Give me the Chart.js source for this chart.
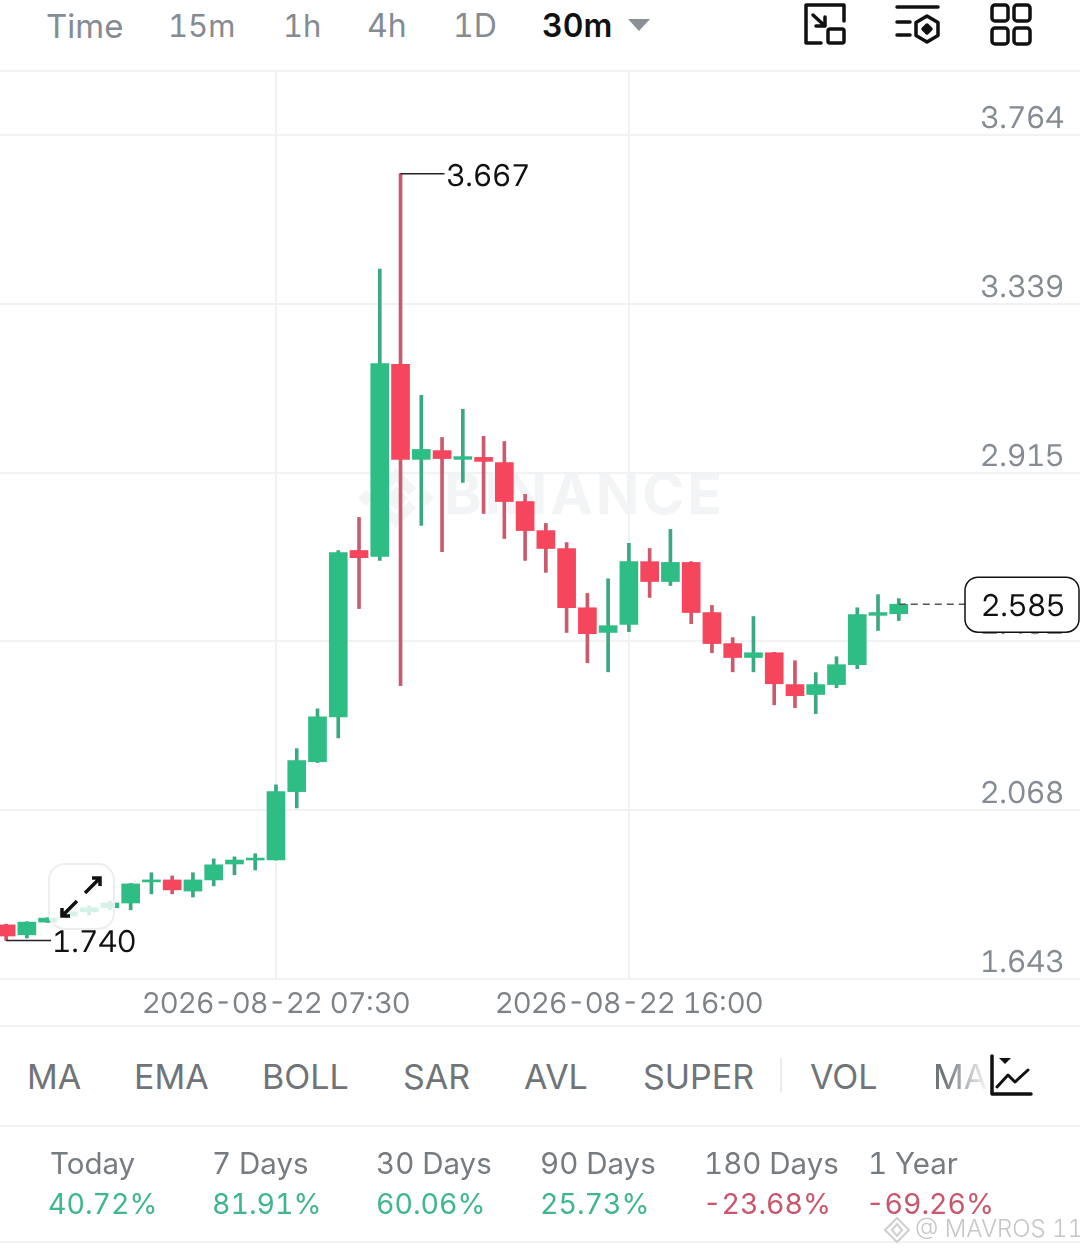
<!DOCTYPE html>
<html>
<head>
<meta charset="utf-8">
<script src="https://cdn.jsdelivr.net/npm/chart.js@4/dist/chart.umd.min.js"></script>
<style>
  @font-face { font-family: 'InterTab'; src: local('Inter'), local('Inter Regular'); font-feature-settings: 'tnum' 1; }
  html, body { margin: 0; padding: 0; background: #fff; }
  body { width: 1080px; height: 1254px; position: relative; overflow: hidden; font-family: Inter, sans-serif; font-variant-numeric: tabular-nums; }
  .t { position: absolute; white-space: nowrap; line-height: 40px; transform: translateY(-50%); }
  .top { top: 26px; font-size: 33px; color: #848b92; }
  .tab { top: 1077px; font-size: 34px; color: #6f7479; }
  .lab { top: 1163px; font-size: 29.500px; color: #767b80; }
  .val { top: 1204px; font-size: 28.500px; }
  .up { color: #3fb68d; }
  .down { color: #c9566b; }
  .line { position: absolute; left: 0; width: 1080px; height: 2px; background: #f1f2f3; }
  svg { position: absolute; overflow: visible; left: 0; top: 0; }
  #chart { position: absolute; left: 0; top: 70px; }
  #brand { position: absolute; left: 444px; top: 456px; font-size: 57px; line-height: 76px; font-weight: 700; color: #f3f4f5; letter-spacing: 3px; }
  #expand { position: absolute; left: 48px; top: 863px; width: 63px; height: 63px; border: 2px solid #eeeeee; border-radius: 17px; background: rgba(255,255,255,0.8); }
</style>
</head>
<body>
<span class="t top" style="left:46px">Time</span>
<span class="t top" style="left:168px;font-size:31px">15m</span>
<span class="t top" style="left:283px;font-size:31px">1h</span>
<span class="t top" style="left:367px;font-size:32px">4h</span>
<span class="t top" style="left:453px;font-size:32px">1D</span>
<span class="t top" style="left:542px;color:#111;font-weight:600;font-size:32px">30m</span>
<svg width="1080" height="70" fill="none" stroke="#111" stroke-width="3.5" stroke-linecap="round" stroke-linejoin="round">
  <path d="M628 19h22l-11 12z" fill="#8b9096" stroke="none"/>
  <path d="M821 43H806V5H844V21"/>
  <rect x="828" y="29" width="16" height="14" rx="2"/>
  <path d="M813 15L825 26M825 17V26H816"/>
  <path d="M897 7H938M897 22H910M897 35H910"/>
  <path d="M927 16L938 22.500V35.500L927 42L916 35.500V22.500Z"/>
  <path d="M927 25L931 29L927 33L923 29Z" fill="#111"/>
  <rect x="992" y="5" width="16" height="16" rx="3"/>
  <rect x="1014" y="5" width="16" height="16" rx="3"/>
  <rect x="992" y="28" width="16" height="16" rx="3"/>
  <rect x="1014" y="28" width="16" height="16" rx="3"/>
</svg>
<div class="line" style="top:70px"></div>

<svg width="1080" height="1000" fill="#f3f4f5">
  <path d="M396 486l12 12-12 12-12-12zM366 490l8 8-8 8-8-8zM426 490l8 8-8 8-8-8z"/>
  <path d="M396 468l20 20-7 7-13-13-13 13-7-7zM396 528l20-20-7-7-13 13-13-13-7 7z"/>
</svg>
<div id="brand">BINANCE</div>

<canvas id="chart" width="1080" height="956"></canvas>

<div id="expand"></div>
<svg width="1080" height="1000" fill="none" stroke="#111" stroke-width="3.500">
  <path d="M85 893L100 878M92 878H100V886M77 901L62 916M62 908V916H70"/>
</svg>

<div class="line" style="top:1025px"></div>
<span class="t tab" style="left:27px">MA</span>
<span class="t tab" style="left:134px">EMA</span>
<span class="t tab" style="left:262px">BOLL</span>
<span class="t tab" style="left:403px">SAR</span>
<span class="t tab" style="left:524px">AVL</span>
<span class="t tab" style="left:643px">SUPER</span>
<div style="position:absolute;left:780px;top:1058px;width:2px;height:34px;background:#ececec"></div>
<span class="t tab" style="left:810px">VOL</span>
<span class="t tab" style="left:933px;-webkit-mask-image:linear-gradient(to right,#000 20%,rgba(0,0,0,.12) 95%)">MA</span>
<svg width="1080" height="1254" fill="none" stroke="#111" stroke-width="3.500" stroke-linecap="round" stroke-linejoin="round">
  <path d="M992 1056V1094H1031"/>
  <path d="M999 1058H1011L1005 1064Z" fill="#111" stroke="none"/>
  <path d="M997 1087L1008 1075L1015 1082L1028 1070" stroke-width="3"/>
</svg>
<div class="line" style="top:1125px"></div>

<span class="t lab" style="left:50px">Today</span>
<span class="t lab" style="left:212px">7 Days</span>
<span class="t lab" style="left:376px">30 Days</span>
<span class="t lab" style="left:540px">90 Days</span>
<span class="t lab" style="left:704px">180 Days</span>
<span class="t lab" style="left:868px">1 Year</span>
<span class="t val up" style="left:48px">40.72%</span>
<span class="t val up" style="left:212px">81.91%</span>
<span class="t val up" style="left:376px">60.06%</span>
<span class="t val up" style="left:540px">25.73%</span>
<span class="t val down" style="left:703px">-23.68%</span>
<span class="t val down" style="left:866px">-69.26%</span>

<div class="line" style="top:1241px"></div>
<svg width="1080" height="1254" fill="none" stroke="#cfcfcf" stroke-width="2">
  <path d="M897 1218l12 12-12 12-12-12zM897 1224l5 6-5 6-5-6z"/>
</svg>
<span class="t" style="left:915px;top:1229px;font-size:24px;color:#c6c6c6;font-weight:300">@ MAVROS 11</span>

<script>
const opens = [1.779, 1.754, 1.786, 1.801, 1.812, 1.822, 1.834, 1.887, 1.892, 1.864, 1.892, 1.932, 1.942, 1.942, 2.114, 2.189, 2.302, 2.720, 2.705, 3.188, 2.949, 2.971, 2.949, 2.954, 2.941, 2.843, 2.770, 2.725, 2.576, 2.514, 2.534, 2.692, 2.642, 2.690, 2.564, 2.486, 2.451, 2.463, 2.383, 2.358, 2.383, 2.433, 2.557, 2.561];
const closes = [1.751, 1.786, 1.796, 1.812, 1.822, 1.834, 1.882, 1.892, 1.867, 1.892, 1.930, 1.942, 1.947, 2.114, 2.192, 2.302, 2.715, 2.702, 3.190, 2.949, 2.974, 2.951, 2.956, 2.944, 2.843, 2.770, 2.725, 2.576, 2.511, 2.531, 2.692, 2.642, 2.690, 2.564, 2.486, 2.451, 2.463, 2.385, 2.355, 2.383, 2.433, 2.559, 2.564, 2.585];
const highs = [1.781, 1.787, 1.797, 1.818, 1.827, 1.839, 1.883, 1.910, 1.902, 1.910, 1.945, 1.950, 1.958, 2.131, 2.222, 2.322, 2.720, 2.803, 3.427, 3.667, 3.110, 3.004, 3.075, 3.007, 2.994, 2.861, 2.788, 2.740, 2.612, 2.649, 2.738, 2.725, 2.773, 2.692, 2.582, 2.501, 2.554, 2.464, 2.443, 2.413, 2.453, 2.576, 2.609, 2.599];
const lows = [1.740, 1.746, 1.785, 1.797, 1.804, 1.817, 1.817, 1.857, 1.857, 1.849, 1.877, 1.905, 1.917, 1.942, 2.073, 2.187, 2.249, 2.574, 2.695, 2.380, 2.783, 2.717, 2.891, 2.813, 2.750, 2.695, 2.665, 2.514, 2.438, 2.415, 2.516, 2.602, 2.632, 2.536, 2.463, 2.415, 2.415, 2.332, 2.325, 2.310, 2.375, 2.423, 2.519, 2.544];
const priceTicks = [1.643, 2.068, 2.492, 2.915, 3.339, 3.764];
const timeTicks = [13, 30];
const timeLabels = ['2026-08-22 07:30', '2026-08-22 16:00'];
const lastPrice = 2.585;

const GREEN = '#2ebd85', RED = '#f6465d';
const GREEN_WICK = '#3aa880', RED_WICK = '#cb5a6e';
const isUp = opens.map((o, i) => closes[i] >= o);
const FAMILY = 'InterTab, Inter';
const FONT = '30px ' + FAMILY;

// high / low callouts and the last price badge
const overlay = {
  id: 'overlay',
  afterDatasetsDraw(chart) {
    const { ctx, scales: { x, y } } = chart;
    const hi = highs.indexOf(Math.max(...highs));
    const lo = lows.indexOf(Math.min(...lows));
    ctx.save();
    ctx.font = FONT;
    ctx.textBaseline = 'middle';
    ctx.fillStyle = '#111';
    ctx.strokeStyle = '#222';
    ctx.lineWidth = 1.5;

    let py = y.getPixelForValue(highs[hi]);
    ctx.beginPath();
    ctx.moveTo(x.getPixelForValue(hi), py);
    ctx.lineTo(x.getPixelForValue(hi) + 44, py);
    ctx.stroke();
    ctx.fillText(highs[hi].toFixed(3), x.getPixelForValue(hi) + 45, py + 3);

    py = y.getPixelForValue(lows[lo]);
    ctx.beginPath();
    ctx.moveTo(x.getPixelForValue(lo), py);
    ctx.lineTo(x.getPixelForValue(lo) + 45, py);
    ctx.stroke();
    ctx.fillText(lows[lo].toFixed(3), x.getPixelForValue(lo) + 46, py + 3);

    py = y.getPixelForValue(lastPrice);
    ctx.strokeStyle = '#555';
    ctx.setLineDash([7, 5]);
    ctx.beginPath();
    ctx.moveTo(x.getPixelForValue(opens.length - 1), py);
    ctx.lineTo(965, py);
    ctx.stroke();
    ctx.setLineDash([]);

    ctx.fillStyle = '#fff';
    ctx.strokeStyle = '#111';
    ctx.beginPath();
    ctx.roundRect(965, py - 27, 114, 55, 13);
    ctx.fill();
    ctx.stroke();
    ctx.fillStyle = '#111';
    ctx.textAlign = 'center';
    ctx.fillText(lastPrice.toFixed(3), 1023, py + 3);
    ctx.restore();
  }
};

function drawChart() {
  new Chart(document.getElementById('chart'), {
    type: 'bar',
    data: {
      datasets: [
        {
          data: opens.map((o, i) => ({ x: i, y: [o, closes[i]] })),
          backgroundColor: isUp.map((u) => (u ? GREEN : RED)),
          barThickness: 18,
          order: 1,
        },
        {
          data: lows.map((l, i) => ({ x: i, y: [l, highs[i]] })),
          backgroundColor: isUp.map((u) => (u ? GREEN_WICK : RED_WICK)),
          barThickness: 3,
          order: 2,
        },
      ],
    },
    options: {
      responsive: false,
      animation: false,
      devicePixelRatio: 1,
      layout: { padding: 0, autoPadding: false },
      plugins: { legend: { display: false }, tooltip: { enabled: false } },
      datasets: { bar: { grouped: false } },
      scales: {
        x: {
          type: 'linear',
          offset: false,
          min: -0.294,
          max: 51.73,
          border: { display: false },
          grid: { offset: false, color: '#f1f2f3', lineWidth: 2, drawTicks: false },
          afterBuildTicks(scale) { scale.ticks = timeTicks.map((v) => ({ value: v })); },
          afterFit(scale) { scale.height = 47; },
          ticks: {
            autoSkip: false,
            maxRotation: 0,
            padding: 8,
            color: '#7d8287',
            font: { family: FAMILY, size: 28.5 },
            callback: (v) => timeLabels[timeTicks.indexOf(v)],
          },
        },
        y: {
          position: 'right',
          min: 1.643,
          max: 3.9226,
          border: { display: false },
          grid: { color: '#f1f2f3', lineWidth: 2, drawTicks: false },
          afterBuildTicks(scale) { scale.ticks = priceTicks.map((v) => ({ value: v })); },
          afterFit(scale) { scale.width = 0; },
          ticks: {
            mirror: true,
            padding: -16,
            labelOffset: -16,
            color: '#848b92',
            font: { family: FAMILY, size: 30 },
            callback: (v) => v.toFixed(3),
          },
        },
      },
    },
    plugins: [overlay],
  });
}

// local font face has to be loaded before the canvas text uses it
document.fonts.load(FONT).then(drawChart, drawChart);
</script>
</body>
</html>
